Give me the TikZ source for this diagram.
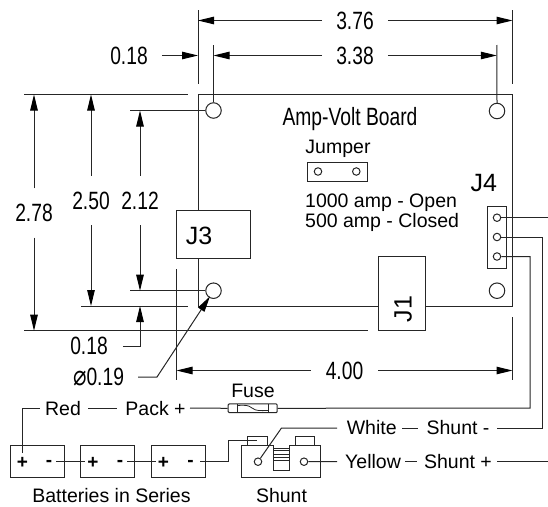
\documentclass[tikz,border=0pt]{standalone}
\usepackage{fontspec}
\setmainfont{Liberation Sans}
\newfontfamily\narrowf[FakeStretch=0.77]{Liberation Sans}
\newfontfamily\symf[FakeStretch=0.8]{DejaVu Sans}
\usetikzlibrary{arrows.meta}
\newcommand{\dimfont}{\narrowf\fontsize{25}{25}\selectfont}
\tikzset{
  ln/.style={line width=1pt,black!85},
  dimtip/.style={ln,-{Triangle[length=16pt,width=7.5pt,fill=black,color=black]}},
  dimtext/.style={font=\dimfont,text height=17pt,text depth=0pt,inner xsep=14pt,inner ysep=0pt},
  vdimtext/.style={font=\dimfont,text height=17pt,text depth=0pt,inner xsep=0pt,inner ysep=16pt},
  lab/.style={font=\fontsize{19.5}{19.5}\selectfont,text height=14pt,text depth=0pt,inner xsep=0pt,inner ysep=0pt},
  wlab/.style={lab,inner xsep=5pt},
  jlab/.style={font=\fontsize{25}{25}\selectfont,text height=18pt,text depth=0pt,inner sep=0pt},
  box/.style={ln,draw,fill=white,minimum size=0pt,inner sep=0pt},
  hole/.style={ln,draw,circle,fill=white,minimum size=15.5pt,inner sep=0pt},
  pin/.style={ln,draw,circle,fill=white,minimum size=7.5pt,inner sep=0pt},
  batt/.style={ln,draw,minimum width=54pt,minimum height=32pt,inner sep=0pt},
  sign/.style={font=\bfseries\fontsize{19}{19}\selectfont,inner sep=0pt},
}
\begin{document}
\begin{tikzpicture}[x=1pt,y=-1pt]
\useasboundingbox (0,0) rectangle (548,506);
% board
\coordinate (bTL) at (198,94.5); \coordinate (bTR) at (512.5,94.5);
\coordinate (bBL) at (198,306);  \coordinate (bBR) at (512.5,306);
\draw[ln] (bBL) -- (bTL) -- (bTR) -- (bBR) -- (bBL);
% connectors blocks
\node[box,minimum width=74pt,minimum height=48pt] (J3) at (213.5,234.5) {};
\node[box,minimum width=47.5pt,minimum height=74.5pt] (J1) at (402,293.3) {};
\node[jlab] at (199,235) (J3t) {J3};
\node[jlab,rotate=90] at (402.5,309) (J1t) {J1};
\node[box,minimum width=19pt,minimum height=61.5pt] (J4) at (496.8,237.4) {};
\node[jlab] (J4t) at (483.7,182) {J4};
% holes
\node[hole] (h1) at (213.5,110.5) {};
\node[hole] (h2) at (497,111) {};
\node[hole] (h3) at (213.5,290.7) {};
\node[hole] (h4) at (497,290.7) {};
% J4 pins
\node[pin] (p1) at (497,217.7) {};
\node[pin] (p2) at (497,237) {};
\node[pin] (p3) at (497,256.5) {};
% jumper
\node[box,minimum width=60pt,minimum height=19.5pt] (jb) at (337.3,172) {};
\node[pin] (j1) at (318,171.5) {};
\node[pin] (j2) at (356.3,171.5) {};
\node[font=\dimfont,text height=17pt,text depth=0pt,inner sep=0pt] (avb) at (350,117) {Amp-Volt Board};
\node[lab] (jt) at (338,146) {Jumper};
\node[lab,anchor=west] (o1) at (305,200) {1000 amp - Open};
\node[lab,anchor=west] (o2) at (305,220) {500 amp - Closed};
% top dimensions
\coordinate (e1a) at (198,10);  \coordinate (e1b) at (198,84);
\coordinate (e2a) at (512.5,10);\coordinate (e2b) at (512.5,84);
\draw[ln] (e1a) -- (e1b); \draw[ln] (e2a) -- (e2b);
\node[dimtext] (d376) at (355,20.5) {3.76};
\draw[dimtip] (d376.west) -- (198,20.5);
\draw[dimtip] (d376.east) -- (512.5,20.5);
\coordinate (e3a) at (213.5,45); \coordinate (e4a) at (496.8,45);
\draw[ln] (e3a) -- (h1.north); \draw[ln] (e4a) -- (h2.north);
\node[dimtext] (d338) at (355,55.5) {3.38};
\draw[dimtip] (d338.west) -- (213.5,55.5);
\draw[dimtip] (d338.east) -- (496.8,55.5);
\node[dimtext] (d018a) at (129,55.5) {0.18};
\draw[dimtip] (d018a.east) -- (198,55.5);
% left extension lines
\draw[ln] (24,94.5) -- (188,94.5);
\draw[ln] (130,110.5) -- (h1.west);
\draw[ln] (130,290.7) -- (h3.west);
\draw[ln] (81,306) -- (188,306);
\draw[ln] (24,330.7) -- (368,330.7);
% vertical dimensions
\node[vdimtext] (d278) at (34,213) {2.78};
\draw[dimtip] (d278.north) -- (34,94.5);
\draw[dimtip] (d278.south) -- (34,330.7);
\node[vdimtext] (d250) at (91,200.5) {2.50};
\draw[dimtip] (d250.north) -- (91,94.5);
\draw[dimtip] (d250.south) -- (91,306);
\node[vdimtext] (d212) at (140,200.5) {2.12};
\draw[dimtip] (d212.north) -- (140,110.5);
\draw[dimtip] (d212.south) -- (140,290.7);
\node[dimtext,inner xsep=15pt] (d018b) at (89,346) {0.18};
\draw[dimtip] (d018b.east) -| (140,306);
\node[font=\dimfont,text height=17pt,text depth=0pt,inner xsep=14pt,inner ysep=0pt] (d019) at (98.5,377) {{\symf\fontsize{28}{28}\selectfont ⌀}0.19};
\draw[dimtip] (d019.east) -- (157,377) -- (210,296.3);
% 4.00
\coordinate (e5a) at (176.5,269); \coordinate (e5b) at (176.5,380);
\coordinate (e6a) at (512.5,317); \coordinate (e6b) at (512.5,380);
\draw[ln] (e5a) -- (e5b); \draw[ln] (e6a) -- (e6b);
\node[dimtext,inner xsep=15pt] (d400) at (344.5,370.5) {4.00};
\draw[dimtip] (d400.west) -- (176.5,370.5);
\draw[dimtip] (d400.east) -- (512.5,370.5);
% batteries
\node[batt] (b1) at (37,461.3) {};
\node[batt] (b2) at (107.5,461.3) {};
\node[batt] (b3) at (178,461.3) {};
\node[sign] (b1p) at (22.5,463) {+}; \node[sign] (b1m) at (49,463) {-};
\node[sign] (b2p) at (93,463) {+};   \node[sign] (b2m) at (120,463) {-};
\node[sign] (b3p) at (163.5,463) {+};\node[sign] (b3m) at (190.5,463) {-};
\draw[ln] (56,461) -- (85,461);
\draw[ln] (127,461) -- (156,461);
\node[lab] (bs) at (111.5,495) {Batteries in Series};
% shunt
\draw[ln] (273.3,445.7) -- (241.7,445.7) -- (241.7,477.5) -- (320.7,477.5) -- (320.7,445.7) -- (289,445.7) -- (289,470.3) -- (273.3,470.3) -- cycle;
\foreach \yy in {448,450.7,454,457.3,460.3} \draw[ln,line width=0.8pt] (273.3,\yy) -- (289,\yy);
\node[box,minimum width=19.5pt,minimum height=9pt] (s1) at (257.5,441.2) {};
\node[box,minimum width=19pt,minimum height=9pt] (s2) at (305.2,441.2) {};
\node[pin] (sp1) at (258,461.7) {};
\node[pin] (sp2) at (304,461.7) {};
\node[lab] (st) at (281.5,495) {Shunt};
\draw[ln] (200,461) -- (228,461) -- (228,440.7) -- (257,440.7);
% fuse
\node[draw,ln,rounded corners=1pt,minimum width=49pt,minimum height=8.7pt,inner sep=0pt] (fuse) at (252.7,408.3) {};
\draw[ln] (237.3,404) -- (237.3,412.7);
\draw[ln] (268.3,404) -- (268.3,412.7);
\draw[line width=0.8pt,black!85] (237.3,405.5) .. controls (246,405) and (248,405) .. (252,408) .. controls (257,411.5) and (260,410.5) .. (268.3,410.5);
\node[lab] (ft) at (253,390) {Fuse};
% wires
\node[wlab] (red) at (63,408) {Red};
\node[lab,inner xsep=5pt] (pack) at (155.5,408) {Pack +};
\coordinate (batIn) at (22,453);
\draw[ln] (batIn) |- (red.west);
\coordinate (w1a) at (88,408); \coordinate (w1b) at (117,408);
\draw[ln] (w1a) -- (w1b);
\coordinate (w2) at (190,408);
\draw[ln] (w2) -- (fuse.west);
\coordinate (c3) at (530,256.5);
\draw[ln] (fuse.east) -- (530,408) -- (c3) -- (p3.east);
\draw[ln] (p1.east) -- (548,217.7);
\node[wlab,inner xsep=0pt] (wh) at (371.7,427.5) {White};
\node[wlab,inner xsep=0pt] (sm) at (458,427.5) {Shunt -};
\draw[ln] (402,428) -- (418,428);
\draw[ln] (p2.east) -- (542.7,237) -- (542.7,428) -- (496.7,428);
\draw[ln] (sp1) -- (281.5,428) -- (337,428);
\node[wlab,inner xsep=0pt] (ye) at (373,461) {Yellow};
\node[wlab,inner xsep=0pt] (sp) at (458,461) {Shunt +};
\draw[ln] (405,461.5) -- (417,461.5);
\draw[ln] (sp2.east) -- (337,461.5);
\draw[ln] (497,461.5) -- (548,461.5);
\end{tikzpicture}
\end{document}
